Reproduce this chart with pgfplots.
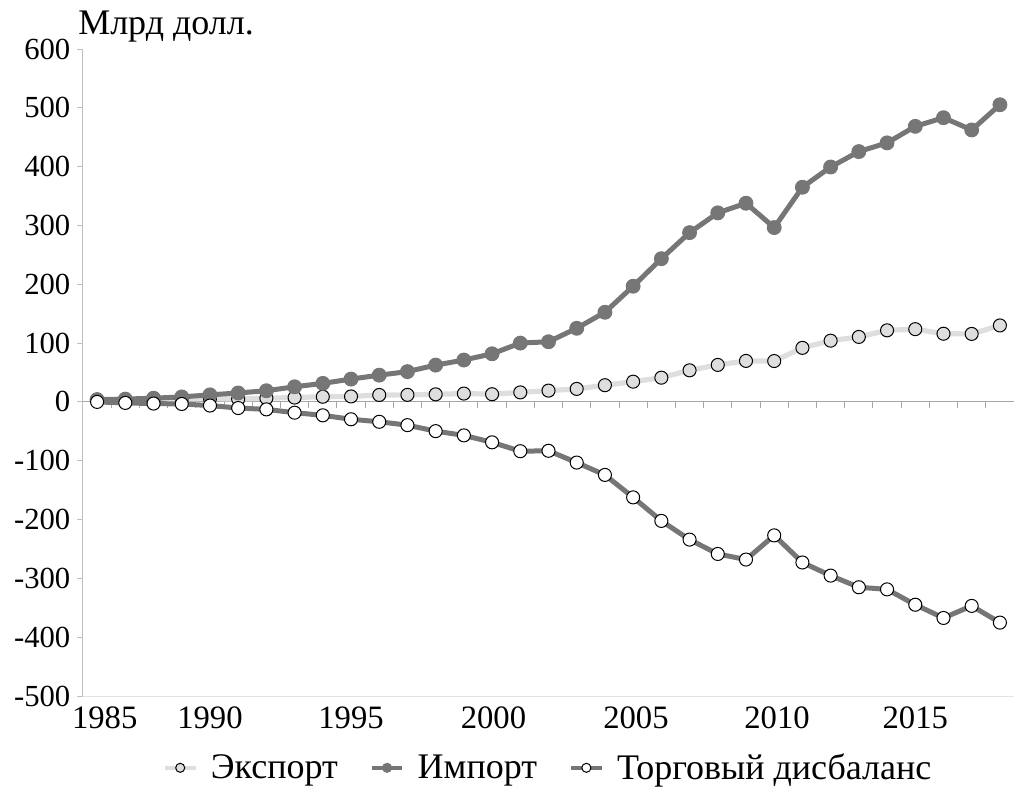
\documentclass[border=0pt]{standalone}
\usepackage{fontspec}
\setmainfont{Liberation Serif}
\usepackage{pgfplots}
\pgfplotsset{compat=1.18}
\definecolor{dk}{HTML}{767676}
\definecolor{lt}{HTML}{DEDEDE}
\definecolor{axg}{HTML}{BFBFBF}
\definecolor{zg}{HTML}{A6A6A6}
\definecolor{bg}{HTML}{E3E3E3}
\newcommand{\fs}{\fontsize{23}{26}\selectfont}
\newcommand{\fx}{\fontsize{24.5}{27}\selectfont}
\newcommand{\fl}{\fontsize{27}{30}\selectfont}
\begin{document}
\begin{tikzpicture}
\useasboundingbox (-62.25pt,-69.75pt) rectangle (705pt,522pt);
\begin{axis}[
  name=ax,
  scale only axis, width=698.25pt, height=485.25pt,
  at={(0pt,0pt)}, anchor=south west,
  xmin=1984.5, xmax=2017.5, ymin=-500, ymax=600,
  axis x line*=bottom, axis y line*=left,
  x axis line style={draw=bg, line width=0.75pt},
  y axis line style={draw=axg, line width=0.75pt},
  ytick={-500,-400,...,600},
  xtick={1985.27,1989,1994,1999.05,2004.1,2009.1,2014},
  xticklabels={1985,1990,1995,2000,2005,2010,2015},
  tick align=outside,
  y tick style={draw=axg, line width=0.75pt},
  major tick length=4.5pt,
  x tick style={draw=none},
  y tick label style={font=\fs, xshift=-1.5pt},
  x tick label style={font=\fx},
  /pgf/number format/assume math mode=true,
  /pgf/number format/1000 sep={},
  legend style={at={(0.5,-0.111)}, anchor=center, draw=none, fill=none,
    font=\fl, legend columns=3,
    /tikz/every odd column/.append style={column sep=8pt},
    /tikz/every even column/.append style={column sep=22pt}},
  legend image code/.code={
    \draw[#1, line width=3pt] (0pt,0pt) -- (23pt,0pt);
    \draw[#1, mark size=3.4pt] plot coordinates {(11.5pt,0pt)};
  },
]
\draw[zg, line width=0.75pt] (axis cs:1984.5,0) -- (axis cs:2017.5,0);
\pgfplotsinvokeforeach{1985,...,2016}{
  \draw[zg, line width=0.75pt] (axis cs:#1.5,0) -- ++(0pt,-4.5pt);
}
\addplot[color=lt, line width=3.9pt, mark=*, mark size=4.9pt,
  mark options={fill=lt, draw=black, line width=0.75pt}] coordinates {
(1985,3.9) (1986,3.1) (1987,3.5) (1988,5.0) (1989,5.8) (1990,4.8) (1991,6.3)
(1992,7.4) (1993,8.8) (1994,9.3) (1995,11.8) (1996,12.0) (1997,12.9) (1998,14.2)
(1999,13.1) (2000,16.2) (2001,19.2) (2002,22.1) (2003,28.4) (2004,34.4) (2005,41.2)
(2006,53.7) (2007,62.9) (2008,69.7) (2009,69.5) (2010,91.9) (2011,104.1) (2012,110.5)
(2013,121.7) (2014,123.7) (2015,115.9) (2016,115.6) (2017,130.0)};
\addlegendentry{Экспорт}
\addplot[color=dk, line width=3.75pt, mark=*, mark size=5.2pt,
  mark options={fill=dk, draw=dk, line width=0.75pt}] coordinates {
(1985,3.9) (1986,4.8) (1987,6.3) (1988,8.5) (1989,12.0) (1990,15.2) (1991,19.0)
(1992,25.7) (1993,31.5) (1994,38.8) (1995,45.5) (1996,51.5) (1997,62.6) (1998,71.2)
(1999,81.8) (2000,100.0) (2001,102.3) (2002,125.2) (2003,152.4) (2004,196.7) (2005,243.5)
(2006,287.8) (2007,321.4) (2008,337.8) (2009,296.4) (2010,365.0) (2011,399.4) (2012,425.6)
(2013,440.4) (2014,468.5) (2015,483.2) (2016,462.4) (2017,505.2)};
\addlegendentry{Импорт}
\addplot[color=dk, line width=3.75pt, mark=*, mark size=4.9pt,
  mark options={fill=white, draw=black, line width=0.75pt}] coordinates {
(1985,0.0) (1986,-1.7) (1987,-2.8) (1988,-3.5) (1989,-6.2) (1990,-10.4) (1991,-12.7)
(1992,-18.3) (1993,-22.8) (1994,-29.5) (1995,-33.8) (1996,-39.5) (1997,-49.7) (1998,-56.9)
(1999,-68.7) (2000,-83.8) (2001,-83.1) (2002,-103.1) (2003,-124.1) (2004,-162.3) (2005,-202.3)
(2006,-234.1) (2007,-258.5) (2008,-268.0) (2009,-226.9) (2010,-273.0) (2011,-295.3) (2012,-315.1)
(2013,-318.7) (2014,-344.8) (2015,-367.3) (2016,-346.8) (2017,-375.2)};
\addlegendentry{Торговый дисбаланс}
\end{axis}
\node[anchor=base west, font=\fl, inner sep=0pt] at ([xshift=-3.75pt, yshift=11.25pt]ax.north west) {Млрд долл.};
\end{tikzpicture}
\end{document}
